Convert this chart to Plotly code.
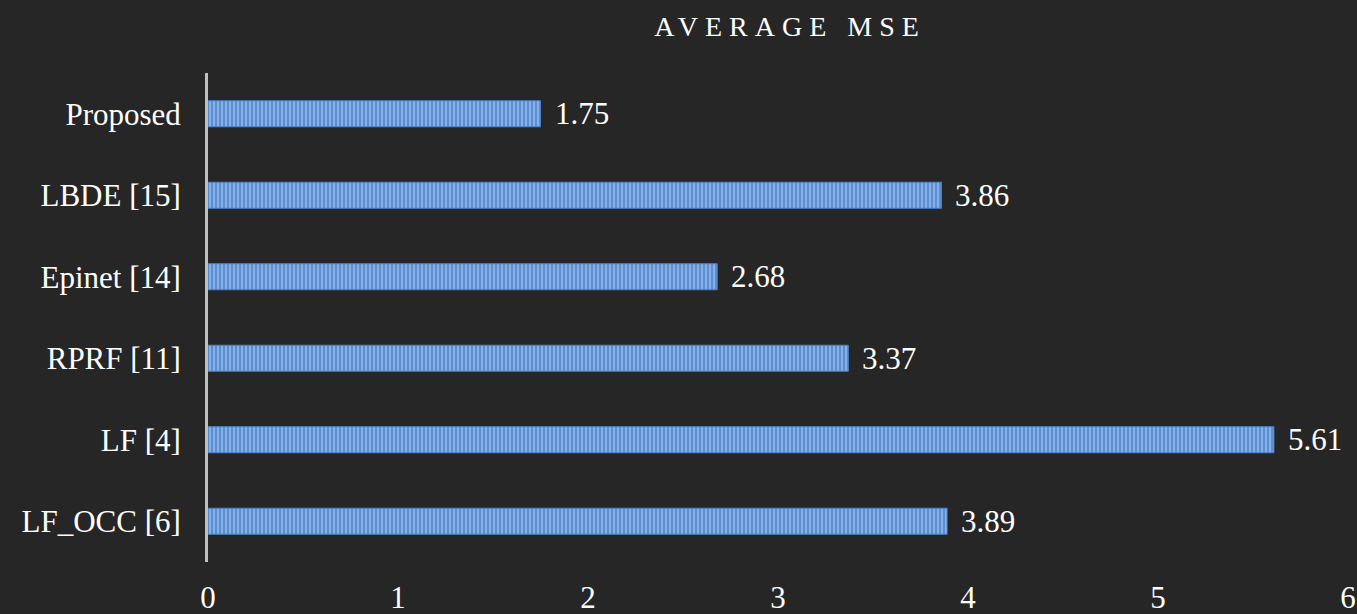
import plotly.graph_objects as go

categories = ["Proposed", "LBDE [15]", "Epinet [14]", "RPRF [11]", "LF [4]", "LF_OCC [6]"]
values = [1.75, 3.86, 2.68, 3.37, 5.61, 3.89]
x_ticks = [0, 1, 2, 3, 4, 5, 6]
title_text = "AVERAGE MSE"

FONT = "Liberation Serif, Times New Roman, serif"

fig = go.Figure()
fig.add_trace(go.Bar(
    x=values,
    y=categories,
    orientation="h",
    marker=dict(
        color="#5a8fd6",
        line=dict(color="#4d80c6", width=1),
        pattern=dict(shape="|", fgcolor="#c2d6f2", size=4, solidity=0.45),
    ),
    hoverinfo="skip",
))

annotations = [
    dict(x=v, y=c, xref="x", yref="y", text=f"{v:.2f}", showarrow=False,
         xanchor="left", xshift=12, font=dict(family=FONT, size=31, color="#ffffff"))
    for v, c in zip(values, categories)
]

fig.update_layout(
    width=1357, height=614,
    paper_bgcolor="#262626",
    plot_bgcolor="#262626",
    margin=dict(l=208, r=9, t=73, b=52),
    bargap=0.68,
    showlegend=False,
    title=dict(
        text=f'<span style="letter-spacing:7px">{title_text}</span>',
        x=790 / 1357, xanchor="center",
        y=1 - 26 / 614, yanchor="middle",
        font=dict(family=FONT, size=28, color="#ffffff"),
    ),
    annotations=annotations,
    xaxis=dict(
        range=[0, 6],
        tickvals=x_ticks,
        showgrid=False, zeroline=False, showline=False,
        tickfont=dict(family=FONT, size=31, color="#ffffff"),
        ticks="", ticklabelstandoff=14, automargin=False,
    ),
    yaxis=dict(
        autorange="reversed",
        showgrid=False, zeroline=False,
        showline=True, linecolor="#bfbfbf", linewidth=3,
        tickfont=dict(family=FONT, size=31, color="#ffffff"),
        ticks="", ticklabelstandoff=18, automargin=False,
    ),
)

fig.write_html("out.html")
